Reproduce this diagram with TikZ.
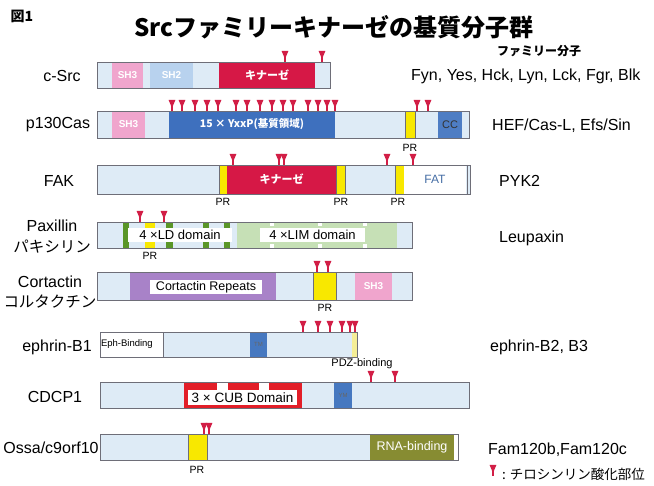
\documentclass[tikz,border=0pt]{standalone}
\usepackage{fontspec}
\setmainfont{Liberation Sans}
\newfontfamily\jp{Noto Sans CJK JP}
\usetikzlibrary{calc}
\definecolor{barbg}{RGB}{222,235,246}
\definecolor{barln}{RGB}{110,110,120}
\definecolor{shpink}{RGB}{240,165,205}
\definecolor{shtwo}{RGB}{184,210,238}
\definecolor{kinred}{RGB}{214,24,70}
\definecolor{ybl}{RGB}{62,112,190}
\definecolor{ccbl}{RGB}{78,125,196}
\definecolor{pry}{RGB}{248,232,0}
\definecolor{pdzy}{RGB}{245,238,150}
\definecolor{phred}{RGB}{210,30,70}
\definecolor{fattxt}{RGB}{70,110,165}
\definecolor{ldg}{RGB}{90,150,40}
\definecolor{limg}{RGB}{198,224,182}
\definecolor{purp}{RGB}{168,130,200}
\definecolor{tmb}{RGB}{70,120,192}
\definecolor{cubr}{RGB}{226,30,40}
\definecolor{olive}{RGB}{135,140,50}
\tikzset{
  bar/.style={fill=barbg, draw=barln, line width=0.7pt},
  barout/.style={draw=barln, line width=0.7pt},
  dom/.style={inner sep=0pt, outer sep=0pt, anchor=north west, text=white,
    font=\bfseries\fontsize{10}{10}\selectfont},
  prbox/.style={dom, fill=pry, draw=barln, line width=0.4pt},
  wlab/.style={inner sep=0pt, outer sep=0pt, anchor=north west, fill=white, text=black,
    font=\fontsize{13}{13}\selectfont},
  lbl/.style={font=\fontsize{16}{16}\selectfont, inner sep=0pt},
  jlbl/.style={font=\jp\fontsize{15.5}{15.5}\selectfont, inner sep=0pt},
  fam/.style={font=\fontsize{16}{16}\selectfont, inner sep=0pt, anchor=west},
  prl/.style={font=\fontsize{10.5}{10.5}\selectfont, inner sep=0pt},
  ph/.pic={\fill[phred] (-3.4,0) -- (3.4,0) -- (0,8) -- cycle;
           \draw[phred, line width=1.1pt] (0,4) -- (0,11);}
}
\begin{document}
\begin{tikzpicture}[x=1pt, y=-1pt]
\useasboundingbox (0,0) rectangle (654,486);
\fill[white] (0,0) rectangle (654,486);
% title
\node[font=\jp\bfseries\fontsize{14}{14}\selectfont, inner sep=0pt] (fig) at (22,16) {図1};
\node[font=\jp\bfseries\fontsize{24}{24}\selectfont, inner sep=0pt] (title) at (334,27) {Srcファミリーキナーゼの基質分子群};
\node[font=\jp\bfseries\fontsize{12}{12}\selectfont, inner sep=0pt, anchor=west] (famhead) at (497,51) {ファミリー分子};

% ---------- c-Src
\node[lbl] (lsrc) at (62,76) {c-Src};
\draw[bar] (97,62) rectangle (330,88);
\node[dom, fill=shpink, minimum width=31, minimum height=26] (srcsh3) at (112,62) {SH3};
\node[dom, fill=shtwo, minimum width=43, minimum height=26] (srcsh2) at (150,62) {SH2};
\node[dom, fill=kinred, minimum width=96, minimum height=26, font=\jp\bfseries\fontsize{11}{11}\selectfont] (srckin) at (219,62) {キナーゼ};
\draw[barout] (97,62) rectangle (330,88);
\foreach \x in {285,322} \pic at (\x,51) {ph};
\node[fam] (fsrc) at (411,76) {Fyn, Yes, Hck, Lyn, Lck, Fgr, Blk};

% ---------- p130Cas
\node[lbl] (lcas) at (58,125) {p130Cas};
\draw[bar] (97,111) rectangle (469,138);
\node[dom, fill=shpink, minimum width=33, minimum height=27] (cassh3) at (112,111) {SH3};
\node[dom, fill=ybl, minimum width=166, minimum height=27, font=\jp\bfseries\fontsize{10.5}{10.5}\selectfont] (casy) at (169,111) {15 × YxxP(基質領域)};
\node[prbox, minimum width=10, minimum height=27] (caspr) at (405,111) {};
\node[dom, fill=ccbl, minimum width=24, minimum height=27, text=black!80, font=\fontsize{11}{11}\selectfont] (cascc) at (438,111) {CC};
\draw[barout] (97,111) rectangle (469,138);
\foreach \x in {172,182,195,207,218,236,247,260,272,283,293,308,318,327,335,417,428} \pic at (\x,100) {ph};
\node[prl] (casprl) at (410,148) {PR};
\node[fam] (fcas) at (492,126) {HEF/Cas-L, Efs/Sin};

% ---------- FAK
\node[lbl] (lfak) at (59,181) {FAK};
\draw[bar] (97,165) rectangle (470,194);
\node[prbox, minimum width=8, minimum height=29] (fakpr1) at (219,165) {};
\node[dom, fill=kinred, minimum width=109, minimum height=29, font=\jp\bfseries\fontsize{11}{11}\selectfont] (fakkin) at (227,165) {キナーゼ};
\node[prbox, minimum width=9, minimum height=29] (fakpr2) at (336,165) {};
\node[prbox, minimum width=9, minimum height=29] (fakpr3) at (395,165) {};
\node[dom, fill=white, minimum width=62, minimum height=29, text=fattxt, font=\fontsize{12}{12}\selectfont] (fakfat) at (404,165) {FAT};
\draw[barout] (97,165) rectangle (470,194);
\draw[barln, line width=0.5pt] (467,165) -- (467,194);
\foreach \x in {233,279,284,387,413} \pic at (\x,154) {ph};
\node[prl] (fakprl1) at (223,202) {PR};
\node[prl] (fakprl2) at (341,202) {PR};
\node[prl] (fakprl3) at (398,202) {PR};
\node[fam] (ffak) at (499,181) {PYK2};

% ---------- Paxillin
\node[lbl] (lpax) at (52,226) {Paxillin};
\node[jlbl] (lpaxj) at (52,247) {パキシリン};
\draw[bar] (97,222) rectangle (412,248);
\foreach \a/\b in {123/129,166/173,203/209,224/230} \fill[ldg] (\a,222) rectangle (\b,248);
\fill[pry] (145,222) rectangle (155,248);
\node[wlab, minimum width=104, minimum height=14] (paxld) at (128,228) {4 ×LD domain};
\fill[limg] (237,222) rectangle (397,248);
\foreach \a in {270,318,363} {\fill[white] (\a,222) rectangle (\a+4,226); \fill[white] (\a,244) rectangle (\a+4,248);}
\node[wlab, minimum width=105, minimum height=14] (paxlim) at (260,228) {4 ×LIM domain};
\draw[barout] (97,222) rectangle (412,248);
\foreach \x in {140,164} \pic at (\x,211) {ph};
\node[prl] (paxprl) at (150,256) {PR};
\node[fam] (fpax) at (499,238) {Leupaxin};

% ---------- Cortactin
\node[lbl] (lcor) at (50,282) {Cortactin};
\node[jlbl] (lcorj) at (50,302) {コルタクチン};
\draw[bar] (97,272) rectangle (412,300);
\fill[purp] (130,272) rectangle (276,300);
\node[wlab, minimum width=112, minimum height=14, font=\fontsize{12.5}{12.5}\selectfont] (correp) at (150,280) {Cortactin Repeats};
\node[prbox, minimum width=23, minimum height=28] (corpr) at (313,272) {};
\node[dom, fill=shpink, minimum width=37, minimum height=28] (corsh3) at (355,272) {SH3};
\draw[barout] (97,272) rectangle (412,300);
\foreach \x in {317,328} \pic at (\x,261) {ph};
\node[prl] (corprl) at (325,308) {PR};

% ---------- ephrin-B1
\node[lbl] (leph) at (57,347) {ephrin-B1};
\draw[bar] (100,332) rectangle (357,357);
\node[dom, fill=white, draw=barln, line width=0.5pt, minimum width=63, minimum height=25, text=black, font=\fontsize{9.5}{9.5}\selectfont, align=left, text width=61] (ephbind) at (100,332) {Eph-Binding};
\node[dom, fill=tmb, minimum width=17, minimum height=25, text=black!60, font=\fontsize{6}{6}\selectfont] (ephtm) at (250,332) {TM};
\fill[pdzy] (352,332) rectangle (357,357);
\draw[barout] (100,332) rectangle (357,357);
\foreach \x in {303,318,330,342,350,355} \pic at (\x,321) {ph};
\node[prl, font=\fontsize{11}{11}\selectfont] (pdzl) at (362,364) {PDZ-binding};
\node[fam] (feph) at (490,347) {ephrin-B2, B3};

% ---------- CDCP1
\node[lbl] (lcd) at (55,397) {CDCP1};
\draw[bar] (100,382) rectangle (469,408);
\fill[cubr] (184,382) rectangle (302,408);
\foreach \a/\b in {217/228,259/269} \fill[white] (\a,382) rectangle (\b,390);
\node[wlab, minimum width=109, minimum height=15, font=\fontsize{13.5}{13.5}\selectfont] (cub) at (188,390) {3 × CUB Domain};
\node[dom, fill=tmb, minimum width=18, minimum height=26, text=black!60, font=\fontsize{6}{6}\selectfont] (cdym) at (334,382) {YM};
\draw[barout] (100,382) rectangle (469,408);
\foreach \x in {371,395} \pic at (\x,371) {ph};

% ---------- Ossa
\node[lbl] (loss) at (51,448) {Ossa/c9orf10};
\draw[bar] (100,434) rectangle (458,460);
\node[prbox, minimum width=19, minimum height=26] (osspr) at (188,434) {};
\node[dom, fill=olive, minimum width=84, minimum height=26, font=\fontsize{12.5}{12.5}\selectfont] (ossrna) at (370,434) {\mdseries RNA-binding};
\fill[white] (454,434) rectangle (458,460);
\draw[barout] (100,434) rectangle (458,460);
\foreach \x in {204,209} \pic at (\x,423) {ph};
\node[prl] (ossprl) at (197,470) {PR};
\node[fam] (foss) at (488,450) {Fam120b,Fam120c};

% legend
\pic at (493,465) {ph};
\node[font=\jp\fontsize{13.5}{13.5}\selectfont, inner sep=0pt, anchor=west] (legend) at (502,474) {: チロシンリン酸化部位};
\end{tikzpicture}
\end{document}
